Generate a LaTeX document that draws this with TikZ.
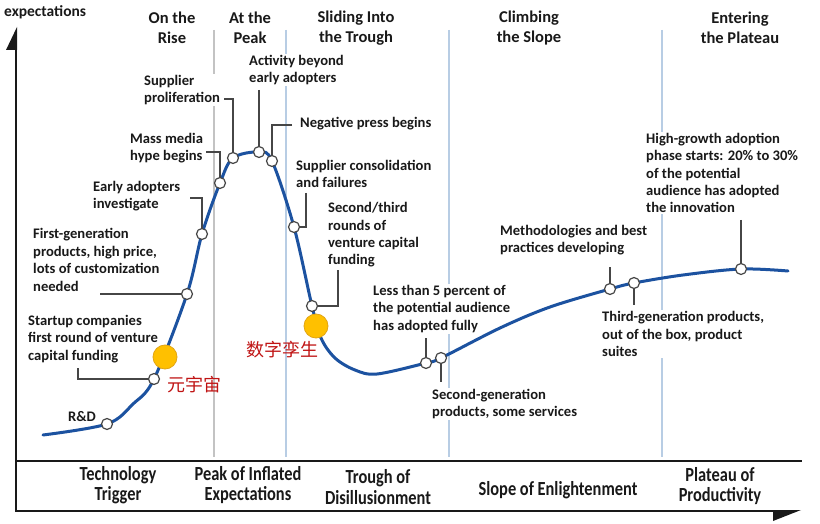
\documentclass[tikz,border=0pt]{standalone}
\usepackage{fontspec}
\setmainfont{Carlito}
\newfontfamily\condfont[FakeStretch=0.82]{Carlito}
\newfontfamily\cjk{Noto Sans CJK SC}
\definecolor{curveblue}{RGB}{28,82,160}
\definecolor{secblue}{RGB}{184,205,228}
\definecolor{secgray}{RGB}{195,195,195}
\definecolor{leadgray}{RGB}{70,70,70}
\definecolor{orangefill}{RGB}{255,192,0}
\definecolor{orangeedge}{RGB}{225,165,20}
\definecolor{cnred}{RGB}{192,20,20}
\definecolor{txt}{RGB}{25,25,25}
\tikzset{
  ann/.style={font=\fontsize{14.6}{17.4}\selectfont\bfseries, text=txt, align=left, anchor=west, inner sep=1pt, fill=white},
  hdr/.style={font=\fontsize{16.5}{20.5}\selectfont\bfseries, text=txt, align=center, inner sep=1pt},
  phase/.style={font=\condfont\fontsize{20}{20.5}\selectfont\bfseries, text=txt, align=center, inner sep=1pt},
  cnlabel/.style={font=\cjk\fontsize{18}{20}\selectfont, text=cnred, inner sep=0pt},
  dot/.style={circle, draw=leadgray, fill=white, line width=1.2pt, minimum size=11pt, inner sep=0pt},
  bigdot/.style={circle, draw=orangeedge, fill=orangefill, line width=0.8pt, minimum size=24pt, inner sep=0pt},
  leader/.style={draw=leadgray, line width=1.6pt},
  curveline/.style={draw=curveblue, line width=3pt, line cap=round},
  secline/.style={line width=1.5pt},
  axisline/.style={draw=txt, line width=2pt},
}
\begin{document}
\begin{tikzpicture}[x=1pt,y=-1pt]
\fill[white] (0,0) rectangle (820,524);
\useasboundingbox (0,0) rectangle (820,524);
% section lines
\draw[secline, secgray] (214,30) -- (214,457);
\draw[secline, secblue] (286,30) -- (286,457);
\draw[secline, secblue] (449,30) -- (449,457);
\draw[secline, secblue] (662,30) -- (662,457);
% axes
\draw[axisline] (16,48) -- (16,511) -- (775,511);
\draw[axisline] (16,461) -- (802,461);
\fill[txt] (6,50) -- (17,50) -- (17,27) -- cycle;
\fill[txt] (773,510) -- (801,510) -- (773,521) -- cycle;
\node[anchor=west, inner sep=1pt, font=\fontsize{15.5}{18}\selectfont\bfseries, text=txt] (ylab) at (3,12) {expectations};
% headers
\node[hdr] (h1) at (172,28) {On the\\Rise};
\node[hdr] (h2) at (250,28) {At the\\Peak};
\node[hdr] (h3) at (356,28) {Sliding Into\\the Trough};
\node[hdr] (h4) at (529,28) {Climbing\\the Slope};
\node[hdr] (h5) at (740,28) {Entering\\the Plateau};
% phase labels
\node[phase] (b1) at (118,485) {Technology\\Trigger};
\node[phase] (b2) at (248,485) {Peak of Inflated\\Expectations};
\node[phase] (b3) at (378,487) {Trough of\\Disillusionment};
\node[phase] (b4) at (558,490) {Slope of Enlightenment};
\node[phase] (b5) at (720,486) {Plateau of\\Productivity};
% annotation texts
\node[ann] (tRD) at (67,417) {R\&D};
\node[ann] (tStart) at (27,339) {Startup companies\\first round of venture\\capital funding};
\node[ann] (tFirst) at (32,260) {First-generation\\products, high price,\\lots of customization\\needed};
\node[ann] (tEarly) at (92,196) {Early adopters\\investigate};
\node[ann] (tMass) at (129,148) {Mass media\\hype begins};
\node[ann] (tSup) at (143,90) {Supplier\\proliferation};
\node[ann] (tAct) at (248,70) {Activity beyond\\early adopters};
\node[ann] (tNeg) at (299,124) {Negative press begins};
\node[ann] (tCons) at (295,174) {Supplier consolidation\\and failures};
\node[ann] (tSec) at (327,235) {Second/third\\rounds of\\venture capital\\funding};
\node[ann] (tLess) at (372,309) {Less than 5 percent of\\the potential audience\\has adopted fully};
\node[ann] (tSG) at (431,404) {Second-generation\\products, some services};
\node[ann] (tMeth) at (499,240) {Methodologies and best\\practices developing};
\node[ann] (tThird) at (601,334) {Third-generation products,\\out of the box, product\\suites};
\node[ann] (tHigh) at (645,173) {High-growth adoption\\phase starts: 20\% to 30\%\\of the potential\\audience has adopted\\the innovation};
% curve points
\coordinate (c0) at (43,435);
\coordinate (pRD) at (107,424);
\coordinate (q1) at (133,404);
\coordinate (pStart) at (154,379);
\coordinate (pFirst) at (187,294);
\coordinate (pEarly) at (202,234);
\coordinate (pMass) at (220,183);
\coordinate (pSup) at (233,158);
\coordinate (pAct) at (259,152);
\coordinate (pNeg) at (272,161);
\coordinate (pCons) at (294,227);
\coordinate (pSec) at (312,306);
\coordinate (q2) at (321,338);
\coordinate (q3) at (335,358);
\coordinate (q4) at (355,370);
\coordinate (q5) at (377,374);
\coordinate (pLess) at (426,363);
\coordinate (pSG) at (441,358);
\coordinate (q6) at (500,328);
\coordinate (q7) at (550,307);
\coordinate (pMeth) at (610,289);
\coordinate (pThird) at (634,283);
\coordinate (q8) at (683,275);
\coordinate (pHigh) at (741,269);
\coordinate (cEnd) at (788,271);
\draw[curveline] plot[smooth, tension=0.55] coordinates {(c0) (pRD) (q1) (pStart) (pFirst) (pEarly) (pMass) (pSup) (pAct) (pNeg) (pCons) (pSec) (q2) (q3) (q4) (q5) (pLess) (pSG) (q6) (q7) (pMeth) (pThird) (q8) (pHigh) (cEnd)};
% leader ends
\coordinate (lStart) at (78,368);
\coordinate (lFirst) at (100,294);
\coordinate (lEarly) at (190,198);
\coordinate (lMass) at (206,152);
\coordinate (lSup) at (224,99);
\coordinate (lAct) at (259,90);
\coordinate (lNeg) at (292,125);
\coordinate (lCons) at (306,193);
\coordinate (lSec) at (338,270);
\coordinate (lLess) at (426,338);
\coordinate (lSG) at (441,382);
\coordinate (lMeth) at (610,267);
\coordinate (lThird) at (634,305);
\coordinate (lHigh) at (741,220);
% dots
\node[dot] (dRD) at (pRD) {};
\node[dot] (dStart) at (pStart) {};
\node[dot] (dFirst) at (pFirst) {};
\node[dot] (dEarly) at (pEarly) {};
\node[dot] (dMass) at (pMass) {};
\node[dot] (dSup) at (pSup) {};
\node[dot] (dAct) at (pAct) {};
\node[dot] (dNeg) at (pNeg) {};
\node[dot] (dCons) at (pCons) {};
\node[dot] (dSec) at (pSec) {};
\node[dot] (dLess) at (pLess) {};
\node[dot] (dSG) at (pSG) {};
\node[dot] (dMeth) at (pMeth) {};
\node[dot] (dThird) at (pThird) {};
\node[dot] (dHigh) at (pHigh) {};
% leaders
\draw[leader] (lStart) |- (dStart);
\draw[leader] (lFirst) -- (dFirst);
\draw[leader] (lEarly) -| (dEarly);
\draw[leader] (lMass) -| (dMass);
\draw[leader] (lSup) -| (dSup);
\draw[leader] (lAct) -- (dAct);
\draw[leader] (lNeg) -| (dNeg);
\draw[leader] (lCons) |- (dCons);
\draw[leader] (lSec) |- (dSec);
\draw[leader] (lLess) -- (dLess);
\draw[leader] (dSG) -- (lSG);
\draw[leader] (lMeth) -- (dMeth);
\draw[leader] (dThird) -- (lThird);
\draw[leader] (lHigh) -- (dHigh);
% orange markers and Chinese labels
\node[bigdot] (oMeta) at (165,357) {};
\node[bigdot] (oTwin) at (316,326) {};
\node[cnlabel] (cnMeta) at (194,385) {元宇宙};
\node[cnlabel] (cnTwin) at (282,350) {数字孪生};
\end{tikzpicture}
\end{document}
